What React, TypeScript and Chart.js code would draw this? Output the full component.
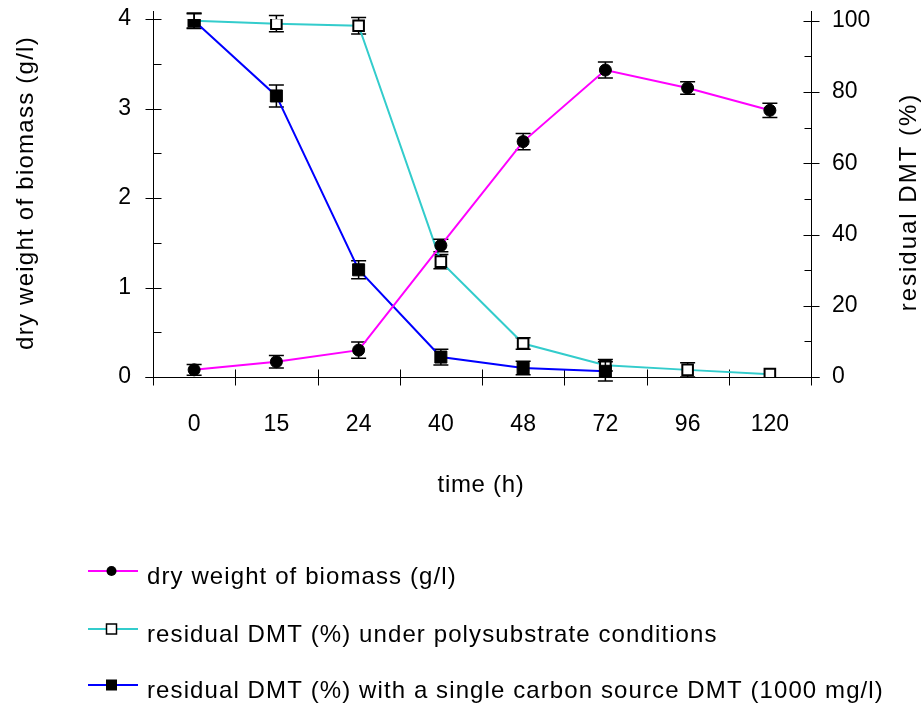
import React, { useEffect, useRef } from "react";
import { Chart, registerables } from "chart.js";

Chart.register(...registerables);

// ---- data ----
const timeLabels = ["0", "15", "24", "40", "48", "72", "96", "120"];
const biomass = [0.08, 0.17, 0.3, 1.47, 2.63, 3.43, 3.23, 2.98];
const biomassErr = [0.06, 0.07, 0.09, 0.07, 0.09, 0.09, 0.07, 0.08];
const dmtPoly = [100, 99.2, 98.6, 32.4, 9.4, 3.3, 2.0, 0.8];
const dmtPolyErr = [2.0, 2.3, 2.3, 2.0, 1.6, 1.6, 2.0, 0];
const dmtSingle = [100, 78.9, 30.1, 5.6, 2.5, 1.6, null, null];
const dmtSingleErr = [2.2, 3.1, 2.5, 2.2, 1.9, 2.7, null, null];
const leftTicks = [0, 1, 2, 3, 4];
const leftMinor = [0.5, 1.5, 2.5, 3.5];
const rightTicks = [0, 20, 40, 60, 80, 100];
const rightMinor = [10, 30, 50, 70, 90];
const seriesNames = [
  "dry weight of biomass (g/l)",
  "residual DMT (%) under polysubstrate conditions",
  "residual DMT (%) with a single carbon source DMT (1000 mg/l)",
];
const xTitle = "time (h)";
const yTitle = "dry weight of biomass (g/l)";
const y2Title = "residual DMT (%)";

const FONT = '"Liberation Sans", Arial, Helvetica, sans-serif';
const MAGENTA = "#FF00FF";
const CYAN = "#33CCCC";
const BLUE = "#0000FF";
const errorSets = [biomassErr, dmtPolyErr, dmtSingleErr];

const errPlugin = {
  id: "errbars",
  beforeDatasetDraw(chart: any, args: any) {
    const err = errorSets[args.index];
    if (!err) return;
    const meta = args.meta;
    const ds = chart.data.datasets[args.index];
    const yScale = chart.scales[meta.yAxisID];
    const ctx = chart.ctx;
    ctx.save();
    ctx.strokeStyle = "#000";
    ctx.lineWidth = 1.5;
    meta.data.forEach((pt: any, i: number) => {
      const v = ds.data[i];
      const e = err[i];
      if (v == null || !e) return;
      const x = pt.x;
      const y1 = yScale.getPixelForValue(v + e);
      const y2 = yScale.getPixelForValue(v - e);
      ctx.beginPath();
      ctx.moveTo(x, y1);
      ctx.lineTo(x, y2);
      ctx.moveTo(x - 7.5, y1);
      ctx.lineTo(x + 7.5, y1);
      ctx.moveTo(x - 7.5, y2);
      ctx.lineTo(x + 7.5, y2);
      ctx.stroke();
    });
    ctx.restore();
  },
};

const axesPlugin = {
  id: "axesDraw",
  beforeDatasetsDraw(chart: any) {
    const ctx = chart.ctx;
    const { left, right, top, bottom } = chart.chartArea;
    const y = chart.scales.y;
    const y2 = chart.scales.y2;
    const x = chart.scales.x;
    ctx.save();
    ctx.strokeStyle = "#000";
    ctx.lineWidth = 1;
    const L = Math.round(left) + 0.5;
    const R = Math.round(right) + 0.5;
    const B = Math.round(bottom) + 0.5;
    ctx.beginPath();
    ctx.moveTo(L, top - 8);
    ctx.lineTo(L, B + 8);
    ctx.moveTo(R, top - 8);
    ctx.lineTo(R, B + 8);
    ctx.moveTo(L - 8, B);
    ctx.lineTo(R + 8, B);
    leftTicks.forEach((v) => {
      const p = Math.round(y.getPixelForValue(v)) + 0.5;
      ctx.moveTo(L - 8, p);
      ctx.lineTo(L + 8, p);
    });
    leftMinor.forEach((v) => {
      const p = Math.round(y.getPixelForValue(v)) + 0.5;
      ctx.moveTo(L, p);
      ctx.lineTo(L + 8, p);
    });
    rightTicks.forEach((v) => {
      const p = Math.round(y2.getPixelForValue(v)) + 0.5;
      ctx.moveTo(R - 8, p);
      ctx.lineTo(R + 8, p);
    });
    rightMinor.forEach((v) => {
      const p = Math.round(y2.getPixelForValue(v)) + 0.5;
      ctx.moveTo(R - 7, p);
      ctx.lineTo(R, p);
    });
    for (let i = 1; i < timeLabels.length; i++) {
      const p =
        Math.round((x.getPixelForValue(i - 1) + x.getPixelForValue(i)) / 2) + 0.5;
      ctx.moveTo(p, B - 8);
      ctx.lineTo(p, B + 8);
    }
    ctx.stroke();
    ctx.restore();
  },
};

function drawSpaced(ctx: any, text: string, x: number, y: number, spacing: number) {
  ctx.letterSpacing = spacing + "px";
  ctx.fillText(text, x, y);
  ctx.letterSpacing = "0px";
}

const textPlugin = {
  id: "textDraw",
  afterDraw(chart: any) {
    const ctx = chart.ctx;
    ctx.save();
    ctx.fillStyle = "#000";
    ctx.font = `24px ${FONT}`;
    ctx.textBaseline = "alphabetic";
    ctx.textAlign = "center";
    drawSpaced(ctx, xTitle, 481, 492, 0.7);
    ctx.save();
    ctx.translate(33, 193);
    ctx.rotate(-Math.PI / 2);
    drawSpaced(ctx, yTitle, 0, 0, 1.25);
    ctx.restore();
    ctx.save();
    ctx.translate(916, 202);
    ctx.rotate(-Math.PI / 2);
    drawSpaced(ctx, y2Title, 0, 0, 2.0);
    ctx.restore();

    const rows = [571, 629, 685];
    const colors = [MAGENTA, CYAN, BLUE];
    rows.forEach((ly, i) => {
      ctx.strokeStyle = colors[i];
      ctx.lineWidth = 2;
      ctx.beginPath();
      ctx.moveTo(88, ly);
      ctx.lineTo(138, ly);
      ctx.stroke();
      const mx = 111.5;
      if (i === 0) {
        ctx.fillStyle = "#000";
        ctx.beginPath();
        ctx.arc(mx, ly, 5, 0, Math.PI * 2);
        ctx.fill();
      } else if (i === 1) {
        ctx.fillStyle = "#fff";
        ctx.fillRect(mx - 5, ly - 5, 10, 10);
        ctx.strokeStyle = "#000";
        ctx.lineWidth = 1.5;
        ctx.strokeRect(mx - 5, ly - 5, 10, 10);
      } else {
        ctx.fillStyle = "#000";
        ctx.fillRect(mx - 5.5, ly - 5.5, 11, 11);
      }
      ctx.fillStyle = "#000";
      ctx.textAlign = "left";
      drawSpaced(ctx, seriesNames[i], 147, ly + 12.5, 1.1);
    });
    ctx.restore();
  },
};

export default function App() {
  const ref = useRef<HTMLCanvasElement | null>(null);
  useEffect(() => {
    if (!ref.current) return;
    const tickFont = { family: FONT, size: 23 };
    const chart = new Chart(ref.current, {
      type: "line",
      data: {
        labels: timeLabels,
        datasets: [
          {
            label: seriesNames[0],
            data: biomass,
            yAxisID: "y",
            borderColor: MAGENTA,
            borderWidth: 2,
            pointStyle: "circle",
            pointRadius: 6,
            pointBackgroundColor: "#000",
            pointBorderColor: "#000",
            pointBorderWidth: 1,
            tension: 0,
            order: 0,
          },
          {
            label: seriesNames[1],
            data: dmtPoly,
            yAxisID: "y2",
            borderColor: CYAN,
            borderWidth: 2,
            pointStyle: "rect",
            pointRadius: 7.5,
            pointBackgroundColor: "#fff",
            pointBorderColor: "#000",
            pointBorderWidth: 2,
            tension: 0,
            order: 2,
          },
          {
            label: seriesNames[2],
            data: dmtSingle,
            yAxisID: "y2",
            borderColor: BLUE,
            borderWidth: 2,
            pointStyle: "rect",
            pointRadius: 8.5,
            pointBackgroundColor: "#000",
            pointBorderColor: "#000",
            pointBorderWidth: 1,
            tension: 0,
            spanGaps: false,
            order: 1,
          },
        ],
      } as any,
      options: {
        responsive: true,
        maintainAspectRatio: false,
        animation: false,
        layout: { padding: { top: 19, left: 0, right: 0, bottom: 0 } },
        plugins: {
          legend: { display: false },
          tooltip: { enabled: false },
        },
        scales: {
          x: {
            type: "category",
            offset: true,
            grid: { display: false, drawTicks: false },
            border: { display: false },
            ticks: {
              font: tickFont,
              color: "#000",
              padding: 34,
              maxRotation: 0,
              autoSkip: false,
            },
            afterFit: (s: any) => {
              s.height = 329;
              s.paddingLeft = 0;
              s.paddingRight = 0;
            },
          },
          y: {
            position: "left",
            min: 0,
            max: 4,
            grid: { display: false, drawTicks: false },
            border: { display: false },
            ticks: { font: tickFont, color: "#000", padding: 22 },
            afterBuildTicks: (s: any) => {
              s.ticks = leftTicks.map((v) => ({ value: v }));
            },
            afterFit: (s: any) => {
              s.width = 153;
              s.paddingTop = 0;
              s.paddingBottom = 0;
            },
          },
          y2: {
            position: "right",
            min: 0,
            max: 100.5,
            grid: { display: false, drawTicks: false },
            border: { display: false },
            ticks: { font: tickFont, color: "#000", padding: 21 },
            afterBuildTicks: (s: any) => {
              s.ticks = rightTicks.map((v) => ({ value: v }));
            },
            afterFit: (s: any) => {
              s.width = 110;
              s.paddingTop = 0;
              s.paddingBottom = 0;
            },
          },
        },
      } as any,
      plugins: [axesPlugin, errPlugin, textPlugin],
    });
    return () => chart.destroy();
  }, []);
  return (
    <div
      style={{
        position: "fixed",
        left: 0,
        top: 0,
        width: 921,
        height: 706,
        background: "#fff",
      }}
    >
      <canvas ref={ref} />
    </div>
  );
}
